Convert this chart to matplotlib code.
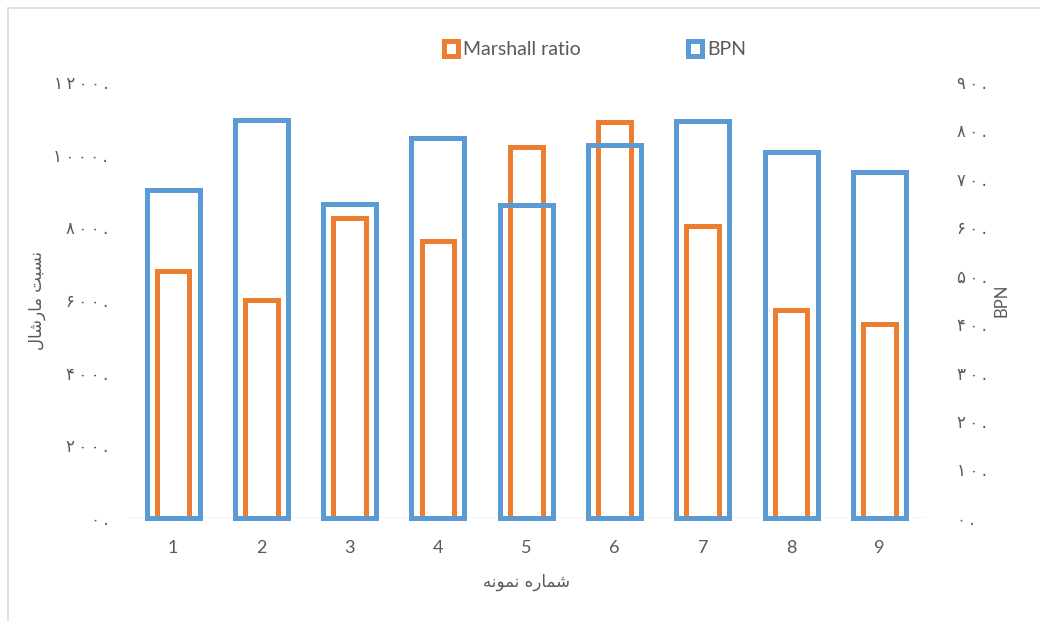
import matplotlib
matplotlib.use('Agg')
import matplotlib.pyplot as plt
from matplotlib.patches import Rectangle
import numpy as np

samples = ['1', '2', '3', '4', '5', '6', '7', '8', '9']
marshall_ratio = [680, 600, 826, 762, 1021, 1090, 804, 572, 534]
bpn = [67.7, 82.2, 64.8, 78.4, 64.6, 77.0, 82.0, 75.6, 71.5]
left_ticks = [0, 200, 400, 600, 800, 1000, 1200]
right_ticks = [0, 10, 20, 30, 40, 50, 60, 70, 80, 90]

# axis titles in presentation forms (visual order) so they join without a shaper
x_title = '\ufeea\ufee7\ufeee\ufee4\ufee7 \ufee9\ufead\ufe8e\ufee4\ufeb7'   # شماره نمونه
y_title = '\ufedd\ufe8e\ufeb7\ufead\ufe8e\ufee3 \ufe96\ufe92\ufeb4\ufee7'   # نسبت مارشال

orange = '#ED7D31'
blue = '#5B9BD5'
grey = '#595959'
persian = str.maketrans('0123456789', '۰۱۲۳۴۵۶۷۸۹')


def fa(v):
    return '\u2009'.join(str(v).translate(persian)) + '\u2009.'


plt.rcParams['font.family'] = ['Lato', 'DejaVu Sans']

fig = plt.figure(figsize=(10.4, 6.21), dpi=100)
fig.patches.append(Rectangle((8 / 1040, -0.2), 1.2, 1.2 - 8 / 621,
                             transform=fig.transFigure, fill=False,
                             edgecolor='#D9D9D9', lw=1.2))
ax = fig.add_axes([0.124, 0.166, 0.764, 0.702])
ax2 = ax.twinx()

x = np.arange(len(samples))
b1 = ax.bar(x, marshall_ratio, width=0.37, facecolor='none', edgecolor=orange,
            lw=3.6, label='Marshall ratio')
b2 = ax2.bar(x, bpn, width=0.60, facecolor='none', edgecolor=blue,
             lw=3.6, label='BPN')
for p in list(b1) + list(b2):
    p.set_clip_on(False)

ax.set_xlim(-0.5, len(samples) - 0.5)
ax.set_ylim(0, 1200)
ax2.set_ylim(0, 90)

ax.set_xticks(x)
ax.set_xticklabels(samples, fontsize=13, color=grey)
ax.set_yticks(left_ticks)
ax.set_yticklabels([fa(v) for v in left_ticks], fontsize=12, color=grey,
                   family=['DejaVu Sans'])
ax2.set_yticks(right_ticks)
ax2.set_yticklabels([fa(v) for v in right_ticks], fontsize=12, color=grey,
                    family=['DejaVu Sans'])

for a in (ax, ax2):
    a.tick_params(length=0)
    for side in ('top', 'left', 'right', 'bottom'):
        a.spines[side].set_visible(False)
ax.axhline(0, color='#BFBFBF', lw=1, zorder=0)
ax.tick_params(axis='y', pad=15)
ax2.tick_params(axis='y', pad=24)
ax.tick_params(axis='x', pad=16)

ax.set_xlabel(x_title, fontsize=12, color=grey, family=['DejaVu Sans'], labelpad=12)
ax.set_ylabel(y_title, fontsize=12, color=grey, family=['DejaVu Sans'])
ax2.set_ylabel('BPN', fontsize=12, color=grey)
ax.yaxis.set_label_coords(-0.104, 0.5)
ax2.yaxis.set_label_coords(1.088, 0.5)

h1, l1 = ax.get_legend_handles_labels()
h2, l2 = ax2.get_legend_handles_labels()
fig.legend(h1 + h2, l1 + l2, loc='center', bbox_to_anchor=(0.572, 0.92),
           ncol=2, frameon=False, fontsize=14, labelcolor=grey,
           handlelength=0.75, handleheight=0.75, handletextpad=0.25,
           columnspacing=5.5)

fig.savefig('out.png', dpi=100, facecolor='white')
